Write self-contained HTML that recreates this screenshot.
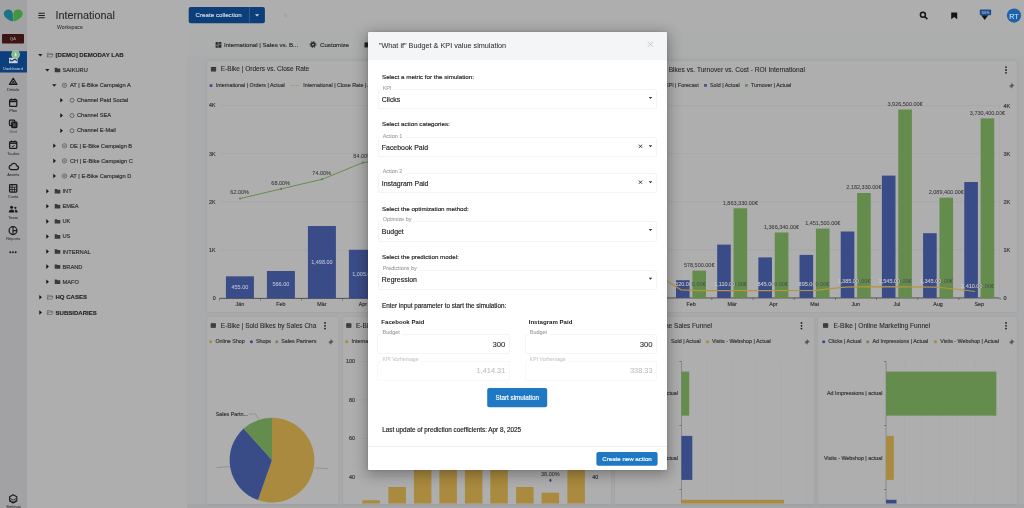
<!DOCTYPE html><html><head><meta charset="utf-8"><title>What if simulation</title><style>
*{box-sizing:border-box;margin:0;padding:0}
html,body{width:1024px;height:508px;overflow:hidden;background:#aaabac;font-family:"Liberation Sans",sans-serif;color:#2a2a2a}
.a{position:absolute}
.t{position:absolute;white-space:nowrap;line-height:1;transform:translateY(-50%)}
.tc{position:absolute;white-space:nowrap;line-height:1;transform:translate(-50%,-50%)}
.tr{position:absolute;white-space:nowrap;line-height:1;transform:translate(-100%,-50%)}
.card{position:absolute;background:#aeaeae;border-radius:1.5px;box-shadow:0 0 4px rgba(0,0,0,.06),0 0 1px rgba(0,0,0,.14)}
.fld{position:absolute;border:1px solid #ececec;border-radius:2px;background:#fff}
svg{position:absolute;left:0;top:0;overflow:visible}
</style></head><body><div id="root" style="position:absolute;left:0;top:0;width:1024px;height:508px;will-change:transform">
<svg width="1" height="1"><rect x="0" y="0" width="27" height="508" rx="0" fill="#a2a2a4"/></svg>
<svg width="1" height="1"><rect x="27" y="0" width="160" height="508" rx="0" fill="#aeaeae"/></svg>
<svg width="1" height="1"><rect x="187" y="0" width="837" height="32" rx="0" fill="#aeaeae"/></svg>
<svg width="1" height="1"><rect x="187" y="32" width="837" height="24.5" rx="0" fill="#acadad"/></svg>
<svg width="1" height="1"><rect x="187" y="504" width="837" height="4" rx="0" fill="#a4a5a7"/></svg>
<svg width="27" height="30" viewBox="0 0 27 30">
<path d="M8.400 9.600c2.800 0 4.500 2.200 4.500 5.200v6.500c-1.200 0-3.600-.8-5.600-2.300c-2.200-1.600-3.500-3.200-3.500-5c0-2.600 2-4.400 4.600-4.400z" fill="#1b7583"/>
<path d="M18 9.600c-2.800 0-4.600 2.200-4.600 5.200v6.500c1.200 0 3.600-.8 5.600-2.300c2.200-1.600 3.700-3.200 3.700-5c0-2.600-2.100-4.400-4.700-4.400z" fill="#43963f"/>
</svg>
<svg width="1" height="1"><rect x="2" y="34" width="22" height="9.5" rx="1.0" fill="#3d1414"/></svg>
<div class="tc" style="left:13px;top:39px;font-size:4.3px;color:#9a8686;font-weight:700;">QA</div>
<svg width="1" height="1"><rect x="0" y="51.2" width="27" height="21.3" rx="0" fill="#0d3e7d"/></svg>
<div class="tc" style="left:13px;top:68.95px;font-size:4.05px;color:#aebfd9;font-weight:400;-webkit-text-stroke:0.07px currentColor;">Dashboard</div>
<svg width="27" height="80" viewBox="0 0 27 80">
<path d="M9 57.8h8.6v5.4h-8.6z" fill="#c9d4e3"/>
<path d="M9.8 59.6c1.4 1.8 2.4 1.8 3.4.6c1.2-1.2 2.2-1.2 3.6.6" fill="none" stroke="#12305a" stroke-width="1.1"/>
<circle cx="15.6" cy="54.5" r="3.9" fill="#7db583" stroke="#a9cfae" stroke-width=".9"/>
<path d="M15.6 52.2c1.2 1 1.2 3 .9 4.2h-1.8c-.3-1.2-.3-3.2.9-4.2z" fill="#cfe6d2"/>
</svg>
<div class="tc" style="left:13.2px;top:90.02px;font-size:4.0px;color:#3a3a3a;font-weight:400;-webkit-text-stroke:0.07px currentColor;">Details</div>
<div class="tc" style="left:13.2px;top:110.5px;font-size:4.0px;color:#3a3a3a;font-weight:400;-webkit-text-stroke:0.07px currentColor;">Plan</div>
<div class="tc" style="left:13.2px;top:131.6px;font-size:4.0px;color:#5c5c5c;font-weight:400;-webkit-text-stroke:0.07px currentColor;">Grid</div>
<div class="tc" style="left:13.2px;top:153.6px;font-size:4.0px;color:#3a3a3a;font-weight:400;-webkit-text-stroke:0.07px currentColor;">To-dos</div>
<div class="tc" style="left:13.2px;top:175px;font-size:4.0px;color:#3a3a3a;font-weight:400;-webkit-text-stroke:0.07px currentColor;">Assets</div>
<div class="tc" style="left:13.2px;top:196.6px;font-size:4.0px;color:#3a3a3a;font-weight:400;-webkit-text-stroke:0.07px currentColor;">Costs</div>
<div class="tc" style="left:13.2px;top:217.6px;font-size:4.0px;color:#3a3a3a;font-weight:400;-webkit-text-stroke:0.07px currentColor;">Team</div>
<div class="tc" style="left:13.2px;top:238.6px;font-size:4.0px;color:#3a3a3a;font-weight:400;-webkit-text-stroke:0.07px currentColor;">Reports</div>
<svg width="27" height="508" viewBox="0 0 27 508" fill="none" stroke="#1a1a1a" stroke-width="1.25" stroke-linejoin="round">
<path d="M13.2 78.2l3.7 6.2h-7.4z"/><path d="M13.2 80.6v3.4M11.4 84.2l1.8-3M15 84.2l-1.8-3" stroke-width=".8"/>
<rect x="9.6" y="99.6" width="7.2" height="6.8" rx=".9"/><path d="M9.6 101.4h7.2" stroke-width="1.6"/><path d="M11.4 98.4v1.4M15 98.4v1.4" stroke-width="1"/>
<rect x="9.5" y="120.2" width="5.2" height="5.4" rx=".8"/><rect x="11.7" y="122.2" width="5.2" height="5.4" rx=".8" fill="#2a2a2a"/><path d="M13 124h2.6M13 125.8h2.6" stroke="#9a9a9a" stroke-width=".5"/>
<rect x="9.6" y="141.6" width="7.2" height="6.8" rx=".9"/><path d="M9.6 143.2h7.2" stroke-width="1.4"/><path d="M11.4 140.4v1.4M15 140.4v1.4" stroke-width="1"/><path d="M11.6 145.8l1.1 1.1 2-2" stroke-width="1"/>
<path d="M10.8 169.6h5.6a1.9 1.9 0 0 0 .4-3.8a2.9 2.9 0 0 0-5.5-.7a2.3 2.3 0 0 0-.5 4.5z"/>
<rect x="9.6" y="184.6" width="7.2" height="7.4" rx=".7"/><path d="M9.6 187.2h7.2M9.6 189.6h7.2M12.1 184.6v7.4M14.5 187.2v4.8" stroke-width=".8"/>
<circle cx="11.6" cy="207.2" r="1.5" fill="#1a1a1a" stroke="none"/><path d="M8.8 212.6c0-2.2 1.2-3 2.8-3s2.8.8 2.8 3z" fill="#1a1a1a" stroke="none"/><circle cx="15.4" cy="207.8" r="1.1" fill="#1a1a1a" stroke="none"/><path d="M14.8 209.8c1.8-.4 2.9.6 2.9 2.8h-2.5c0-1.300-.1-2-.4-2.800z" fill="#1a1a1a" stroke="none"/>
<circle cx="13" cy="230.6" r="3.9"/><path d="M13 226.700v7.800M13 230.600h3.900" stroke-width="1.1"/>
<circle cx="10.3" cy="252.2" r=".95" fill="#1a1a1a" stroke="none"/><circle cx="13" cy="252.2" r=".95" fill="#1a1a1a" stroke="none"/><circle cx="15.700" cy="252.2" r=".95" fill="#1a1a1a" stroke="none"/>
<path d="M13.2 494.800l3.600 2v4.200l-3.600 2-3.600-2v-4.200z" stroke-width="1.1"/><path d="M10 498.400l3.200 1.700 3.200-1.700M10 500.400l3.200 1.700 3.200-1.700" stroke-width=".8"/>
</svg>
<div class="tc" style="left:13.5px;top:506.5px;font-size:4.0px;color:#3a3a3a;font-weight:400;-webkit-text-stroke:0.07px currentColor;">Settings</div>
<svg width="60" height="30" viewBox="0 0 60 30"><path d="M38.400 13.200h6.400M38.400 15.500h6.400M38.400 17.800h6.400" stroke="#1e1e1e" stroke-width="1.1"/></svg>
<div class="t" style="left:55.5px;top:15.49px;font-size:10.8px;color:#262626;font-weight:400;-webkit-text-stroke:0.07px currentColor;">International</div>
<div class="t" style="left:57px;top:27.6px;font-size:5.2px;color:#3c3c3c;font-weight:400;-webkit-text-stroke:0.07px currentColor;">Workspace</div>
<svg width="1" height="1"><path d="M38.099999999999994 54h4.4l-2.2 2.4z" fill="#1e1e1e"/></svg>
<svg width="1" height="1"><path d="M47.4 57v-4h2l.6.7h2.6v.8M47.4 57l1-2.5h4.6l-1 2.5z" fill="none" stroke="#5a5a5a" stroke-width=".6"/></svg>
<div class="t" style="left:55.5px;top:55.2px;font-size:6.05px;color:#1c1c1c;font-weight:700;-webkit-text-stroke:0.1px currentColor;">[DEMO] DEMODAY LAB</div>
<svg width="1" height="1"><path d="M45.099999999999994 69h4.4l-2.2 2.4z" fill="#1e1e1e"/></svg>
<svg width="1" height="1"><path d="M54.7 67.8h2.2l.6.7h2.8v3.7h-5.6z" fill="#3a3a3a"/></svg>
<div class="t" style="left:62.5px;top:71.05px;font-size:5.7px;color:#2e2e2e;font-weight:400;-webkit-text-stroke:0.16px currentColor;">SAIKURU</div>
<svg width="1" height="1"><path d="M52.099999999999994 84.3h4.4l-2.2 2.4z" fill="#1e1e1e"/></svg>
<svg width="1" height="1"><circle cx="64.5" cy="85.3" r="2.2" fill="none" stroke="#4a4a4a" stroke-width=".6"/><circle cx="64.5" cy="85.3" r=".8" fill="none" stroke="#4a4a4a" stroke-width=".5"/></svg>
<div class="t" style="left:70px;top:86.38px;font-size:5.7px;color:#2e2e2e;font-weight:400;-webkit-text-stroke:0.16px currentColor;">AT | E-Bike Campaign A</div>
<svg width="1" height="1"><path d="M60.3 98.0l2.6 2.3l-2.6 2.3z" fill="#111"/></svg>
<svg width="1" height="1"><circle cx="72" cy="100.3" r="2" fill="none" stroke="#3a3a3a" stroke-width=".6"/></svg>
<div class="t" style="left:77px;top:101.41px;font-size:5.7px;color:#2e2e2e;font-weight:400;-webkit-text-stroke:0.16px currentColor;">Channel Paid Social</div>
<svg width="1" height="1"><path d="M60.3 113.2l2.6 2.3l-2.6 2.3z" fill="#111"/></svg>
<svg width="1" height="1"><circle cx="72" cy="115.5" r="2" fill="none" stroke="#3a3a3a" stroke-width=".6"/></svg>
<div class="t" style="left:77px;top:115.55px;font-size:5.7px;color:#2e2e2e;font-weight:400;-webkit-text-stroke:0.16px currentColor;">Channel SEA</div>
<svg width="1" height="1"><path d="M60.3 128.39999999999998l2.6 2.3l-2.6 2.3z" fill="#111"/></svg>
<svg width="1" height="1"><circle cx="72" cy="130.7" r="2" fill="none" stroke="#3a3a3a" stroke-width=".6"/></svg>
<div class="t" style="left:77px;top:130.75px;font-size:5.7px;color:#2e2e2e;font-weight:400;-webkit-text-stroke:0.16px currentColor;">Channel E-Mail</div>
<svg width="1" height="1"><path d="M53.3 143.5l2.6 2.3l-2.6 2.3z" fill="#111"/></svg>
<svg width="1" height="1"><circle cx="64.5" cy="145.8" r="2.2" fill="none" stroke="#4a4a4a" stroke-width=".6"/><circle cx="64.5" cy="145.8" r=".8" fill="none" stroke="#4a4a4a" stroke-width=".5"/></svg>
<div class="t" style="left:70px;top:146.91px;font-size:5.7px;color:#2e2e2e;font-weight:400;-webkit-text-stroke:0.16px currentColor;">DE | E-Bike Campaign B</div>
<svg width="1" height="1"><path d="M53.3 158.6l2.6 2.3l-2.6 2.3z" fill="#111"/></svg>
<svg width="1" height="1"><circle cx="64.5" cy="160.9" r="2.2" fill="none" stroke="#4a4a4a" stroke-width=".6"/><circle cx="64.5" cy="160.9" r=".8" fill="none" stroke="#4a4a4a" stroke-width=".5"/></svg>
<div class="t" style="left:70px;top:161.57px;font-size:5.7px;color:#2e2e2e;font-weight:400;-webkit-text-stroke:0.16px currentColor;">CH | E-Bike Campaign C</div>
<svg width="1" height="1"><path d="M53.3 173.7l2.6 2.3l-2.6 2.3z" fill="#111"/></svg>
<svg width="1" height="1"><circle cx="64.5" cy="176" r="2.2" fill="none" stroke="#4a4a4a" stroke-width=".6"/><circle cx="64.5" cy="176" r=".8" fill="none" stroke="#4a4a4a" stroke-width=".5"/></svg>
<div class="t" style="left:70px;top:176.79px;font-size:5.7px;color:#2e2e2e;font-weight:400;-webkit-text-stroke:0.16px currentColor;">AT | E-Bike Campaign D</div>
<svg width="1" height="1"><path d="M46.3 188.89999999999998l2.6 2.3l-2.6 2.3z" fill="#111"/></svg>
<svg width="1" height="1"><path d="M54.7 189.0h2.2l.6.7h2.8v3.7h-5.6z" fill="#3a3a3a"/></svg>
<div class="t" style="left:62.5px;top:192.07px;font-size:5.7px;color:#2e2e2e;font-weight:400;-webkit-text-stroke:0.16px currentColor;">INT</div>
<svg width="1" height="1"><path d="M46.3 204.0l2.6 2.3l-2.6 2.3z" fill="#111"/></svg>
<svg width="1" height="1"><path d="M54.7 204.10000000000002h2.2l.6.7h2.8v3.7h-5.6z" fill="#3a3a3a"/></svg>
<div class="t" style="left:62.5px;top:206.85px;font-size:5.7px;color:#2e2e2e;font-weight:400;-webkit-text-stroke:0.16px currentColor;">EMEA</div>
<svg width="1" height="1"><path d="M46.3 219.1l2.6 2.3l-2.6 2.3z" fill="#111"/></svg>
<svg width="1" height="1"><path d="M54.7 219.20000000000002h2.2l.6.7h2.8v3.7h-5.6z" fill="#3a3a3a"/></svg>
<div class="t" style="left:62.5px;top:222.25px;font-size:5.7px;color:#2e2e2e;font-weight:400;-webkit-text-stroke:0.16px currentColor;">UK</div>
<svg width="1" height="1"><path d="M46.3 234.2l2.6 2.3l-2.6 2.3z" fill="#111"/></svg>
<svg width="1" height="1"><path d="M54.7 234.3h2.2l.6.7h2.8v3.7h-5.6z" fill="#3a3a3a"/></svg>
<div class="t" style="left:62.5px;top:236.55px;font-size:5.7px;color:#2e2e2e;font-weight:400;-webkit-text-stroke:0.16px currentColor;">US</div>
<svg width="1" height="1"><path d="M46.3 249.2l2.6 2.3l-2.6 2.3z" fill="#111"/></svg>
<svg width="1" height="1"><path d="M54.7 249.3h2.2l.6.7h2.8v3.7h-5.6z" fill="#3a3a3a"/></svg>
<div class="t" style="left:62.5px;top:252.63px;font-size:5.7px;color:#2e2e2e;font-weight:400;-webkit-text-stroke:0.16px currentColor;">INTERNAL</div>
<svg width="1" height="1"><path d="M46.3 264.3l2.6 2.3l-2.6 2.3z" fill="#111"/></svg>
<svg width="1" height="1"><path d="M54.7 264.40000000000003h2.2l.6.7h2.8v3.7h-5.6z" fill="#3a3a3a"/></svg>
<div class="t" style="left:62.5px;top:267.93px;font-size:5.7px;color:#2e2e2e;font-weight:400;-webkit-text-stroke:0.16px currentColor;">BRAND</div>
<svg width="1" height="1"><path d="M46.3 279.4l2.6 2.3l-2.6 2.3z" fill="#111"/></svg>
<svg width="1" height="1"><path d="M54.7 279.5h2.2l.6.7h2.8v3.7h-5.6z" fill="#3a3a3a"/></svg>
<div class="t" style="left:62.5px;top:282.51px;font-size:5.7px;color:#2e2e2e;font-weight:400;-webkit-text-stroke:0.16px currentColor;">MAFO</div>
<svg width="1" height="1"><path d="M39.3 294.9l2.6 2.3l-2.6 2.3z" fill="#111"/></svg>
<svg width="1" height="1"><path d="M47.4 299.2v-4h2l.6.7h2.6v.8M47.4 299.2l1-2.5h4.6l-1 2.5z" fill="none" stroke="#5a5a5a" stroke-width=".6"/></svg>
<div class="t" style="left:55.5px;top:297.4px;font-size:6.05px;color:#1c1c1c;font-weight:700;-webkit-text-stroke:0.1px currentColor;">HQ CASES</div>
<svg width="1" height="1"><path d="M39.3 310.2l2.6 2.3l-2.6 2.3z" fill="#111"/></svg>
<svg width="1" height="1"><path d="M47.4 314.5v-4h2l.6.7h2.6v.8M47.4 314.5l1-2.5h4.6l-1 2.5z" fill="none" stroke="#5a5a5a" stroke-width=".6"/></svg>
<div class="t" style="left:55.5px;top:312.7px;font-size:6.05px;color:#1c1c1c;font-weight:700;-webkit-text-stroke:0.1px currentColor;">SUBSIDARIES</div>
<svg width="1" height="1"><rect x="188.7" y="7" width="76.2" height="16.3" rx="2.0" fill="#0c3e7a"/></svg>
<svg width="1" height="1"><rect x="249.2" y="7" width="0.7" height="16.3" rx="0" fill="#3a67a0"/></svg>
<div class="t" style="left:195.6px;top:15.2px;font-size:6.2px;color:#d3dbe6;font-weight:400;-webkit-text-stroke:0.16px currentColor;">Create collection</div>
<svg width="1" height="1"><path d="M255 14.2h4.2l-2.1 2.3z" fill="#d3dbe6"/></svg>
<svg width="1" height="1"><path d="M284 16.4l1.2-3h.6l1.2 3zM285.5 16.4v1.6" fill="#a2a2a2" stroke="#a2a2a2" stroke-width=".5"/></svg>
<svg width="1" height="1">
<circle cx="922.9" cy="14.7" r="2.5" fill="none" stroke="#141414" stroke-width="1.5"/><path d="M924.9 16.7l2.5 2.4" stroke="#141414" stroke-width="1.5"/>
<path d="M951.2 12.6h6v6.700l-3-2.200-3 2.200z" fill="#141414"/>
<rect x="979.8" y="9.4" width="11.3" height="5.9" rx=".8" fill="#1a4e8e"/><path d="M981.2 15.3h7l-3.500 4.600z" fill="#141414"/>
<circle cx="1014" cy="15.6" r="7.1" fill="#1d62aa"/>
</svg>
<div class="tc" style="left:985.4px;top:14.24px;font-size:3.2px;color:#9fb6d4;font-weight:700;">100%</div>
<div class="tc" style="left:1014px;top:17.86px;font-size:7.1px;color:#d5e0ee;font-weight:400;-webkit-text-stroke:0.07px currentColor;">RT</div>
<svg width="1" height="1"><rect x="215.6" y="42" width="5.8" height="5.8" rx=".5" fill="#2e2e2e"/><path d="M215.6 45.4h2.6M218.2 42v5.8M218.2 44.2h3.2" stroke="#a8a8a8" stroke-width=".55"/>
<circle cx="313" cy="44.6" r="2.5" fill="#2a2a2a"/><circle cx="313" cy="44.6" r="3" fill="none" stroke="#2a2a2a" stroke-width="1" stroke-dasharray="1.2 1.15"/><circle cx="313" cy="44.6" r=".9" fill="#acadad"/>
<rect x="364.5" y="42.4" width="4" height="5" fill="#222"/></svg>
<div class="t" style="left:224px;top:45px;font-size:6.1px;color:#2c2c2c;font-weight:400;-webkit-text-stroke:0.16px currentColor;">International | Sales vs. B...</div>
<div class="t" style="left:320px;top:45px;font-size:6.15px;color:#2c2c2c;font-weight:400;-webkit-text-stroke:0.16px currentColor;">Customize</div>
<div class="card" style="left:206.5px;top:60.5px;width:400px;height:251.5px"></div>
<svg width="1" height="1"><rect x="210.9" y="67.1" width="5.2" height="4.4" rx=".4" fill="#2a2a2a"/><path d="M210.9 68.6h5.2M210.9 70.1h5.2" stroke="#8a8a8a" stroke-width=".35"/></svg>
<div class="t" style="left:220.8px;top:69.31px;font-size:6.5px;color:#262626;font-weight:400;-webkit-text-stroke:0.07px currentColor;">E-Bike | Orders vs. Close Rate</div>
<svg width="1" height="1"><rect x="209.65" y="84.25" width="2.7" height="2.7" rx="0" fill="#3a4c88"/></svg>
<div class="t" style="left:215.8px;top:85.6px;font-size:5.35px;color:#333333;font-weight:400;-webkit-text-stroke:0.16px currentColor;">International | Orders | Actual</div>
<svg width="1" height="1"><path d="M290.5 85.6h8.5" stroke="#7aa86a" stroke-width=".8" stroke-dasharray="2 .7"/></svg>
<div class="t" style="left:303.3px;top:85.6px;font-size:5.35px;color:#333333;font-weight:400;-webkit-text-stroke:0.16px currentColor;">International | Close Rate | Actual</div>
<div class="tr" style="left:215.6px;top:298.82px;font-size:5.3px;color:#333333;font-weight:400;-webkit-text-stroke:0.16px currentColor;">0</div>
<svg width="1" height="1"><rect x="219.7" y="249.8" width="390" height="0.6" rx="0" fill="#a4a4a5"/></svg>
<div class="tr" style="left:215.6px;top:250.99px;font-size:5.3px;color:#333333;font-weight:400;-webkit-text-stroke:0.16px currentColor;">1K</div>
<svg width="1" height="1"><rect x="219.7" y="201.55" width="390" height="0.6" rx="0" fill="#a4a4a5"/></svg>
<div class="tr" style="left:215.6px;top:202.54px;font-size:5.3px;color:#333333;font-weight:400;-webkit-text-stroke:0.16px currentColor;">2K</div>
<svg width="1" height="1"><rect x="219.7" y="153.3" width="390" height="0.6" rx="0" fill="#a4a4a5"/></svg>
<div class="tr" style="left:215.6px;top:154.6px;font-size:5.3px;color:#333333;font-weight:400;-webkit-text-stroke:0.16px currentColor;">3K</div>
<svg width="1" height="1"><rect x="219.7" y="105.05" width="390" height="0.6" rx="0" fill="#a4a4a5"/></svg>
<div class="tr" style="left:215.6px;top:105.92px;font-size:5.3px;color:#333333;font-weight:400;-webkit-text-stroke:0.16px currentColor;">4K</div>
<svg width="1" height="1"><rect x="219.7" y="297.9" width="390" height="0.9" rx="0" fill="#484848"/></svg>
<svg width="1" height="1"><rect x="225.9" y="276.35" width="28" height="21.95" rx="0" fill="#3a4c88"/></svg>
<div class="tc" style="left:239.9px;top:287.99px;font-size:5.5px;color:#bcc3d8;font-weight:400;-webkit-text-stroke:0.07px currentColor;">455.00</div>
<div class="tc" style="left:239.9px;top:305.27px;font-size:5.35px;color:#333333;font-weight:400;-webkit-text-stroke:0.16px currentColor;">Jän</div>
<svg width="1" height="1"><rect x="219.3" y="298.3" width="0.7" height="2" rx="0" fill="#555"/></svg>
<svg width="1" height="1"><rect x="266.9" y="270.99" width="28" height="27.31" rx="0" fill="#3a4c88"/></svg>
<div class="tc" style="left:280.9px;top:284.85px;font-size:5.5px;color:#bcc3d8;font-weight:400;-webkit-text-stroke:0.07px currentColor;">566.00</div>
<div class="tc" style="left:280.9px;top:305.47px;font-size:5.35px;color:#333333;font-weight:400;-webkit-text-stroke:0.16px currentColor;">Feb</div>
<svg width="1" height="1"><rect x="260.3" y="298.3" width="0.7" height="2" rx="0" fill="#555"/></svg>
<svg width="1" height="1"><rect x="307.9" y="226.02" width="28" height="72.28" rx="0" fill="#3a4c88"/></svg>
<div class="tc" style="left:321.9px;top:262.62px;font-size:5.5px;color:#bcc3d8;font-weight:400;-webkit-text-stroke:0.07px currentColor;">1,498.00</div>
<div class="tc" style="left:321.9px;top:305.44px;font-size:5.35px;color:#333333;font-weight:400;-webkit-text-stroke:0.16px currentColor;">Mär</div>
<svg width="1" height="1"><rect x="301.3" y="298.3" width="0.7" height="2" rx="0" fill="#555"/></svg>
<svg width="1" height="1"><rect x="348.9" y="249.81" width="28" height="48.49" rx="0" fill="#3a4c88"/></svg>
<div class="tc" style="left:362.9px;top:274.95px;font-size:5.5px;color:#bcc3d8;font-weight:400;-webkit-text-stroke:0.07px currentColor;">1,005.00</div>
<div class="tc" style="left:362.9px;top:305.22px;font-size:5.35px;color:#333333;font-weight:400;-webkit-text-stroke:0.16px currentColor;">Apr</div>
<svg width="1" height="1"><rect x="342.3" y="298.3" width="0.7" height="2" rx="0" fill="#555"/></svg>
<svg width="1" height="1"><polyline points="240,198.6 281,188.9 322,179.3 363,162.6 404,158" fill="none" stroke="#648e4e" stroke-width="1"/><circle cx="240" cy="198.6" r="1.1" fill="#5d8548"/><circle cx="281" cy="188.9" r="1.1" fill="#5d8548"/><circle cx="322" cy="179.3" r="1.1" fill="#5d8548"/><circle cx="363" cy="162.6" r="1.1" fill="#5d8548"/><circle cx="404" cy="158" r="1.1" fill="#5d8548"/></svg>
<div class="tc" style="left:239.7px;top:192.74px;font-size:5.5px;color:#3b3b3b;font-weight:400;-webkit-text-stroke:0.07px currentColor;">62.00%</div>
<div class="tc" style="left:280.7px;top:183.72px;font-size:5.5px;color:#3b3b3b;font-weight:400;-webkit-text-stroke:0.07px currentColor;">68.00%</div>
<div class="tc" style="left:321.7px;top:174.03px;font-size:5.5px;color:#3b3b3b;font-weight:400;-webkit-text-stroke:0.07px currentColor;">74.00%</div>
<div class="tc" style="left:362.7px;top:156.86px;font-size:5.5px;color:#3b3b3b;font-weight:400;-webkit-text-stroke:0.07px currentColor;">84.00%</div>
<div class="card" style="left:611px;top:60.5px;width:405.7px;height:251.5px"></div>
<div class="tr" style="left:804.9px;top:69.8px;font-size:6.64px;color:#262626;font-weight:400;-webkit-text-stroke:0.07px currentColor;">E-Bike | Sold Bikes vs. Turnover vs. Cost - ROI International</div>
<svg width="1" height="1"><circle cx="1006" cy="67.1" r=".9" fill="#1a1a1a"/><circle cx="1006" cy="70" r=".9" fill="#1a1a1a"/><circle cx="1006" cy="72.8" r=".9" fill="#1a1a1a"/></svg>
<svg width="1" height="1"><rect x="704.15" y="84.05" width="2.7" height="2.7" rx="0" fill="#3a4c88"/></svg>
<div class="t" style="left:710px;top:86.46px;font-size:5.35px;color:#333333;font-weight:400;-webkit-text-stroke:0.16px currentColor;">Sold | Actual</div>
<svg width="1" height="1"><rect x="745.05" y="84.05" width="2.7" height="2.7" rx="0" fill="#648c4c"/></svg>
<div class="t" style="left:751px;top:86.44px;font-size:5.35px;color:#333333;font-weight:400;-webkit-text-stroke:0.16px currentColor;">Turnover | Actual</div>
<div class="t" style="left:665px;top:85.76px;font-size:5.35px;color:#333333;font-weight:400;-webkit-text-stroke:0.16px currentColor;">KPI | Forecast</div>
<svg width="1" height="1"><path d="M1011.6 83.19999999999999l2.6 2.4l-1 .2l-1 1.2l-.2 1.2l-2.6-2.6l1.2-.2l1-1.2zM1010.6 86.39999999999999l-1.4 1.6" fill="#555" stroke="#555" stroke-width=".3"/></svg>
<div class="t" style="left:1003.5px;top:298.75px;font-size:5.5px;color:#333333;font-weight:400;-webkit-text-stroke:0.16px currentColor;">0</div>
<svg width="1" height="1"><rect x="620" y="249.6" width="379.5" height="0.6" rx="0" fill="#a4a4a5"/></svg>
<div class="t" style="left:1003.5px;top:250.58px;font-size:5.5px;color:#333333;font-weight:400;-webkit-text-stroke:0.16px currentColor;">1K</div>
<svg width="1" height="1"><rect x="620" y="201.55" width="379.5" height="0.6" rx="0" fill="#a4a4a5"/></svg>
<div class="t" style="left:1003.5px;top:202.53px;font-size:5.5px;color:#333333;font-weight:400;-webkit-text-stroke:0.16px currentColor;">2K</div>
<svg width="1" height="1"><rect x="620" y="153.5" width="379.5" height="0.6" rx="0" fill="#a4a4a5"/></svg>
<div class="t" style="left:1003.5px;top:155.17px;font-size:5.5px;color:#333333;font-weight:400;-webkit-text-stroke:0.16px currentColor;">3K</div>
<svg width="1" height="1"><rect x="620" y="105.45" width="379.5" height="0.6" rx="0" fill="#a4a4a5"/></svg>
<div class="t" style="left:1003.5px;top:107.12px;font-size:5.5px;color:#333333;font-weight:400;-webkit-text-stroke:0.16px currentColor;">4K</div>
<svg width="1" height="1"><rect x="620" y="297.5" width="379.5" height="0.9" rx="0" fill="#484848"/></svg>
<svg width="1" height="1"><rect x="676.0" y="280.2" width="13.6" height="17.7" rx="0" fill="#3a4c88"/></svg>
<svg width="1" height="1"><rect x="692.4" y="270.6" width="13.6" height="27.3" rx="0" fill="#648c4c"/></svg>
<div class="tc" style="left:699.1999999999999px;top:266.0px;font-size:5.5px;color:#3b3b3b;font-weight:400;-webkit-text-stroke:0.07px currentColor;">578,500.00€</div>
<div class="tc" style="left:691.0px;top:305.47px;font-size:5.35px;color:#333333;font-weight:400;-webkit-text-stroke:0.16px currentColor;">Feb</div>
<svg width="1" height="1"><rect x="711.5" y="297.9" width="0.7" height="2" rx="0" fill="#555"/></svg>
<svg width="1" height="1"><rect x="717.18" y="244.6" width="13.6" height="53.3" rx="0" fill="#3a4c88"/></svg>
<svg width="1" height="1"><rect x="733.58" y="208.3" width="13.6" height="89.6" rx="0" fill="#648c4c"/></svg>
<div class="tc" style="left:740.3799999999999px;top:203.9px;font-size:5.5px;color:#3b3b3b;font-weight:400;-webkit-text-stroke:0.07px currentColor;">1,863,330.00€</div>
<div class="tc" style="left:732.18px;top:305.44px;font-size:5.35px;color:#333333;font-weight:400;-webkit-text-stroke:0.16px currentColor;">Mär</div>
<svg width="1" height="1"><rect x="752.68" y="297.9" width="0.7" height="2" rx="0" fill="#555"/></svg>
<svg width="1" height="1"><rect x="758.36" y="257.4" width="13.6" height="40.5" rx="0" fill="#3a4c88"/></svg>
<svg width="1" height="1"><rect x="774.76" y="232.5" width="13.6" height="65.4" rx="0" fill="#648c4c"/></svg>
<div class="tc" style="left:781.56px;top:227.7px;font-size:5.5px;color:#3b3b3b;font-weight:400;-webkit-text-stroke:0.07px currentColor;">1,366,340.00€</div>
<div class="tc" style="left:773.36px;top:305.22px;font-size:5.35px;color:#333333;font-weight:400;-webkit-text-stroke:0.16px currentColor;">Apr</div>
<svg width="1" height="1"><rect x="793.86" y="297.9" width="0.7" height="2" rx="0" fill="#555"/></svg>
<svg width="1" height="1"><rect x="799.54" y="254.9" width="13.6" height="43.0" rx="0" fill="#3a4c88"/></svg>
<svg width="1" height="1"><rect x="815.94" y="228.6" width="13.6" height="69.3" rx="0" fill="#648c4c"/></svg>
<div class="tc" style="left:822.7399999999999px;top:223.9px;font-size:5.5px;color:#3b3b3b;font-weight:400;-webkit-text-stroke:0.07px currentColor;">1,451,500.00€</div>
<div class="tc" style="left:814.54px;top:305.4px;font-size:5.35px;color:#333333;font-weight:400;-webkit-text-stroke:0.16px currentColor;">Mai</div>
<svg width="1" height="1"><rect x="835.04" y="297.9" width="0.7" height="2" rx="0" fill="#555"/></svg>
<svg width="1" height="1"><rect x="840.72" y="231.5" width="13.6" height="66.4" rx="0" fill="#3a4c88"/></svg>
<svg width="1" height="1"><rect x="857.12" y="193" width="13.6" height="104.9" rx="0" fill="#648c4c"/></svg>
<div class="tc" style="left:863.92px;top:187.96px;font-size:5.5px;color:#3b3b3b;font-weight:400;-webkit-text-stroke:0.07px currentColor;">2,182,330.00€</div>
<div class="tc" style="left:855.72px;top:305.2px;font-size:5.35px;color:#333333;font-weight:400;-webkit-text-stroke:0.16px currentColor;">Jun</div>
<svg width="1" height="1"><rect x="876.22" y="297.9" width="0.7" height="2" rx="0" fill="#555"/></svg>
<svg width="1" height="1"><rect x="881.9" y="175.6" width="13.6" height="122.3" rx="0" fill="#3a4c88"/></svg>
<svg width="1" height="1"><rect x="898.3" y="109.5" width="13.6" height="188.4" rx="0" fill="#648c4c"/></svg>
<div class="tc" style="left:905.0999999999999px;top:104.72px;font-size:5.5px;color:#3b3b3b;font-weight:400;-webkit-text-stroke:0.07px currentColor;">3,926,500.00€</div>
<div class="tc" style="left:896.9px;top:305.3px;font-size:5.35px;color:#333333;font-weight:400;-webkit-text-stroke:0.16px currentColor;">Jul</div>
<svg width="1" height="1"><rect x="917.4" y="297.9" width="0.7" height="2" rx="0" fill="#555"/></svg>
<svg width="1" height="1"><rect x="923.08" y="233.2" width="13.6" height="64.7" rx="0" fill="#3a4c88"/></svg>
<svg width="1" height="1"><rect x="939.48" y="197.7" width="13.6" height="100.2" rx="0" fill="#648c4c"/></svg>
<div class="tc" style="left:946.2799999999999px;top:193.13px;font-size:5.5px;color:#3b3b3b;font-weight:400;-webkit-text-stroke:0.07px currentColor;">2,089,400.00€</div>
<div class="tc" style="left:938.0799999999999px;top:305.02px;font-size:5.35px;color:#333333;font-weight:400;-webkit-text-stroke:0.16px currentColor;">Aug</div>
<svg width="1" height="1"><rect x="958.58" y="297.9" width="0.7" height="2" rx="0" fill="#555"/></svg>
<svg width="1" height="1"><rect x="964.26" y="182" width="13.6" height="115.9" rx="0" fill="#3a4c88"/></svg>
<svg width="1" height="1"><rect x="980.66" y="118.4" width="13.6" height="179.5" rx="0" fill="#648c4c"/></svg>
<div class="tc" style="left:987.4599999999999px;top:113.55px;font-size:5.5px;color:#3b3b3b;font-weight:400;-webkit-text-stroke:0.07px currentColor;">3,730,400.00€</div>
<div class="tc" style="left:979.26px;top:305.2px;font-size:5.35px;color:#333333;font-weight:400;-webkit-text-stroke:0.16px currentColor;">Sep</div>
<svg width="1" height="1"><rect x="999.76" y="297.9" width="0.7" height="2" rx="0" fill="#555"/></svg>
<svg width="1" height="1"><polyline points="660,280 667,281 681,289.8 700,290.6 740,290.6 780,290.6 815,290.4 845,287.2 870,286.6 905,286.8 935,287 955,289 975,291.5" fill="none" stroke="#b5953f" stroke-width="1.25"/></svg>
<div class="tc" style="left:692.0px;top:284.96px;font-size:5.5px;color:#4c4c4c;font-weight:400;">45,500.00€</div>
<div class="tc" style="left:683.5px;top:284.89px;font-size:5.5px;color:#c3c7d3;font-weight:400;-webkit-text-stroke:0.1px currentColor;">320.00</div>
<div class="tc" style="left:733.18px;top:284.94px;font-size:5.5px;color:#4c4c4c;font-weight:400;">56,600.00€</div>
<div class="tc" style="left:724.68px;top:284.77px;font-size:5.5px;color:#c3c7d3;font-weight:400;-webkit-text-stroke:0.1px currentColor;">1,110.00</div>
<div class="tc" style="left:774.36px;top:284.97px;font-size:5.5px;color:#4c4c4c;font-weight:400;">54,450.00€</div>
<div class="tc" style="left:765.86px;top:284.95px;font-size:5.5px;color:#c3c7d3;font-weight:400;-webkit-text-stroke:0.1px currentColor;">845.00</div>
<div class="tc" style="left:815.54px;top:284.92px;font-size:5.5px;color:#4c4c4c;font-weight:400;">51,000.00€</div>
<div class="tc" style="left:807.04px;top:284.96px;font-size:5.5px;color:#c3c7d3;font-weight:400;-webkit-text-stroke:0.1px currentColor;">895.00</div>
<div class="tc" style="left:856.72px;top:281.5px;font-size:5.5px;color:#4c4c4c;font-weight:400;">67,500.00€</div>
<div class="tc" style="left:848.22px;top:281.5px;font-size:5.5px;color:#c3c7d3;font-weight:400;-webkit-text-stroke:0.1px currentColor;">1,385.00</div>
<div class="tc" style="left:897.9px;top:281.5px;font-size:5.5px;color:#4c4c4c;font-weight:400;">72,500.00€</div>
<div class="tc" style="left:889.4px;top:281.5px;font-size:5.5px;color:#c3c7d3;font-weight:400;-webkit-text-stroke:0.1px currentColor;">2,545.00</div>
<div class="tc" style="left:939.0799999999999px;top:281.5px;font-size:5.5px;color:#4c4c4c;font-weight:400;">71,900.00€</div>
<div class="tc" style="left:930.5799999999999px;top:281.5px;font-size:5.5px;color:#c3c7d3;font-weight:400;-webkit-text-stroke:0.1px currentColor;">1,345.00</div>
<div class="tc" style="left:980.26px;top:286.94px;font-size:5.5px;color:#4c4c4c;font-weight:400;">39,500.00€</div>
<div class="tc" style="left:971.76px;top:286.85px;font-size:5.5px;color:#c3c7d3;font-weight:400;-webkit-text-stroke:0.1px currentColor;">2,410.00</div>
<svg width="1" height="1"><rect x="999.3" y="105" width="0.5" height="193" rx="0" fill="#a4a4a4"/></svg>
<div class="card" style="left:206.5px;top:316.5px;width:131px;height:187px"></div>
<svg width="1" height="1"><rect x="210.70000000000002" y="323.3" width="5.2" height="4.4" rx=".4" fill="#2a2a2a"/><path d="M210.70000000000002 324.8h5.2M210.70000000000002 326.3h5.2" stroke="#8a8a8a" stroke-width=".35"/></svg>
<div class="t" style="left:220.7px;top:325.5px;font-size:6.5px;color:#262626;font-weight:400;-webkit-text-stroke:0.07px currentColor;">E-Bike | Sold Bikes by Sales Cha</div>
<svg width="1" height="1"><circle cx="325" cy="322.90000000000003" r=".9" fill="#1a1a1a"/><circle cx="325" cy="325.8" r=".9" fill="#1a1a1a"/><circle cx="325" cy="328.6" r=".9" fill="#1a1a1a"/></svg>
<svg width="1" height="1"><rect x="209.05" y="340.25" width="3.1" height="3.1" rx="1.55" fill="#aa8a3e"/></svg>
<div class="t" style="left:215.4px;top:341.8px;font-size:5.35px;color:#333333;font-weight:400;-webkit-text-stroke:0.16px currentColor;">Online Shop</div>
<svg width="1" height="1"><rect x="249.85" y="340.25" width="3.1" height="3.1" rx="1.55" fill="#3a4c88"/></svg>
<div class="t" style="left:255.9px;top:341.8px;font-size:5.35px;color:#333333;font-weight:400;-webkit-text-stroke:0.16px currentColor;">Shops</div>
<svg width="1" height="1"><rect x="275.25" y="340.25" width="3.1" height="3.1" rx="1.55" fill="#648c4c"/></svg>
<div class="t" style="left:281.3px;top:341.8px;font-size:5.35px;color:#333333;font-weight:400;-webkit-text-stroke:0.16px currentColor;">Sales Partners</div>
<svg width="1" height="1"><path d="M330.8 339.40000000000003l2.6 2.4l-1 .2l-1 1.2l-.2 1.2l-2.6-2.6l1.2-.2l1-1.2zM329.8 342.6l-1.4 1.6" fill="#555" stroke="#555" stroke-width=".3"/></svg>
<svg width="1" height="1"><path d="M272 460.1L272.00 417.70A42.4 42.4 0 1 1 257.99 500.12Z" fill="#aa8a3e"/><path d="M272 460.1L257.99 500.12A42.4 42.4 0 0 1 243.63 428.59Z" fill="#3a4c88"/><path d="M272 460.1L243.63 428.59A42.4 42.4 0 0 1 272.00 417.70Z" fill="#648c4c"/><path d="M249 414h6.5l3.2 5M216.6 467.6l13.2-1M314.6 468l13.4.6" fill="none" stroke="#7a7a7a" stroke-width=".5"/></svg>
<div class="t" style="left:215.8px;top:415.08px;font-size:5.35px;color:#333333;font-weight:400;-webkit-text-stroke:0.16px currentColor;">Sales Partn...</div>
<div class="card" style="left:343px;top:316.5px;width:268px;height:187px"></div>
<svg width="1" height="1"><rect x="346.2" y="323.3" width="5.2" height="4.4" rx=".4" fill="#2a2a2a"/><path d="M346.2 324.8h5.2M346.2 326.3h5.2" stroke="#8a8a8a" stroke-width=".35"/></svg>
<div class="t" style="left:356px;top:325.5px;font-size:6.5px;color:#262626;font-weight:400;-webkit-text-stroke:0.07px currentColor;">E-Bike | Budget vs. Conversion International</div>
<svg width="1" height="1"><rect x="345.25" y="340.25" width="3.1" height="3.1" rx="1.55" fill="#b08a3a"/></svg>
<div class="t" style="left:351.5px;top:341.8px;font-size:5.35px;color:#333333;font-weight:400;-webkit-text-stroke:0.16px currentColor;">International | Budget</div>
<div class="tr" style="left:355px;top:362.0px;font-size:5.35px;color:#333333;font-weight:400;-webkit-text-stroke:0.16px currentColor;">100</div>
<svg width="1" height="1"><rect x="358" y="361.15" width="232" height="0.5" rx="0" fill="#a4a4a5"/></svg>
<div class="t" style="left:592.3px;top:361.98px;font-size:5.35px;color:#333333;font-weight:400;-webkit-text-stroke:0.16px currentColor;">100</div>
<div class="tr" style="left:355px;top:400.78px;font-size:5.35px;color:#333333;font-weight:400;-webkit-text-stroke:0.16px currentColor;">80</div>
<svg width="1" height="1"><rect x="358" y="399.65" width="232" height="0.5" rx="0" fill="#a4a4a5"/></svg>
<div class="t" style="left:592.3px;top:400.78px;font-size:5.35px;color:#333333;font-weight:400;-webkit-text-stroke:0.16px currentColor;">80</div>
<div class="tr" style="left:355px;top:439.12px;font-size:5.35px;color:#333333;font-weight:400;-webkit-text-stroke:0.16px currentColor;">60</div>
<svg width="1" height="1"><rect x="358" y="438.15" width="232" height="0.5" rx="0" fill="#a4a4a5"/></svg>
<div class="t" style="left:592.3px;top:439.14px;font-size:5.35px;color:#333333;font-weight:400;-webkit-text-stroke:0.16px currentColor;">60</div>
<div class="tr" style="left:355px;top:477.59px;font-size:5.35px;color:#333333;font-weight:400;-webkit-text-stroke:0.16px currentColor;">40</div>
<svg width="1" height="1"><rect x="358" y="476.55" width="232" height="0.5" rx="0" fill="#a4a4a5"/></svg>
<div class="t" style="left:592.3px;top:477.6px;font-size:5.35px;color:#333333;font-weight:400;-webkit-text-stroke:0.16px currentColor;">40</div>
<svg width="1" height="1"><rect x="362.3" y="500.3" width="17.5" height="3.2" rx="0" fill="#aa8a3e"/></svg>
<svg width="1" height="1"><rect x="388.4" y="487" width="17.5" height="16.5" rx="0" fill="#aa8a3e"/></svg>
<svg width="1" height="1"><rect x="413.9" y="440" width="17.5" height="63.5" rx="0" fill="#aa8a3e"/></svg>
<svg width="1" height="1"><rect x="439.4" y="430" width="17.5" height="73.5" rx="0" fill="#aa8a3e"/></svg>
<svg width="1" height="1"><rect x="464.9" y="425" width="17.5" height="78.5" rx="0" fill="#aa8a3e"/></svg>
<svg width="1" height="1"><rect x="490.3" y="435" width="17.5" height="68.5" rx="0" fill="#aa8a3e"/></svg>
<svg width="1" height="1"><rect x="516.1" y="487" width="17.5" height="16.5" rx="0" fill="#aa8a3e"/></svg>
<svg width="1" height="1"><rect x="541.6" y="492.7" width="17.5" height="10.8" rx="0" fill="#aa8a3e"/></svg>
<svg width="1" height="1"><rect x="567.4" y="445" width="17.5" height="58.5" rx="0" fill="#aa8a3e"/></svg>
<div class="tc" style="left:550.4px;top:474.5px;font-size:5.5px;color:#3b3b3b;font-weight:400;-webkit-text-stroke:0.07px currentColor;">38.00%</div>
<svg width="1" height="1"><path d="M550.4 478.6l1.3 1.6l-1.3 2l-1.3-2z" fill="#2f3f86"/></svg>
<div class="card" style="left:615.2px;top:316.5px;width:198.8px;height:187px"></div>
<div class="t" style="left:629px;top:325.5px;font-size:6.5px;color:#262626;font-weight:400;-webkit-text-stroke:0.07px currentColor;">E-Bike | Online Sales Funnel</div>
<svg width="1" height="1"><circle cx="801.5" cy="322.90000000000003" r=".9" fill="#1a1a1a"/><circle cx="801.5" cy="325.8" r=".9" fill="#1a1a1a"/><circle cx="801.5" cy="328.6" r=".9" fill="#1a1a1a"/></svg>
<div class="t" style="left:671px;top:341.8px;font-size:5.35px;color:#333333;font-weight:400;-webkit-text-stroke:0.16px currentColor;">Sold | Actual</div>
<svg width="1" height="1"><rect x="705.95" y="340.25" width="3.1" height="3.1" rx="1.55" fill="#aa8a3e"/></svg>
<div class="t" style="left:712px;top:341.8px;font-size:5.35px;color:#333333;font-weight:400;-webkit-text-stroke:0.16px currentColor;">Visits - Webshop | Actual</div>
<svg width="1" height="1"><path d="M806.9 339.40000000000003l2.6 2.4l-1 .2l-1 1.2l-.2 1.2l-2.6-2.6l1.2-.2l1-1.2zM805.9 342.6l-1.4 1.6" fill="#555" stroke="#555" stroke-width=".3"/></svg>
<svg width="1" height="1"><rect x="706" y="361.4" width="0.5" height="142" rx="0" fill="#a8a8a9"/></svg>
<svg width="1" height="1"><rect x="731" y="361.4" width="0.5" height="142" rx="0" fill="#a8a8a9"/></svg>
<svg width="1" height="1"><rect x="755.9" y="361.4" width="0.5" height="142" rx="0" fill="#a8a8a9"/></svg>
<svg width="1" height="1"><rect x="780.8" y="361.4" width="0.5" height="142" rx="0" fill="#a8a8a9"/></svg>
<svg width="1" height="1"><rect x="806" y="361.4" width="0.5" height="142" rx="0" fill="#a8a8a9"/></svg>
<svg width="1" height="1"><rect x="681.2" y="361.4" width="0.5" height="142" rx="0" fill="#666"/></svg>
<svg width="1" height="1"><rect x="679.4" y="361.1" width="2" height="0.6" rx="0" fill="#555"/></svg>
<svg width="1" height="1"><rect x="679.4" y="425.1" width="2" height="0.6" rx="0" fill="#555"/></svg>
<svg width="1" height="1"><rect x="679.4" y="489.4" width="2" height="0.6" rx="0" fill="#555"/></svg>
<svg width="1" height="1"><rect x="681.4" y="371.6" width="7.8" height="44" rx="0" fill="#648c4c"/></svg>
<svg width="1" height="1"><rect x="681.4" y="435.9" width="10.9" height="44" rx="0" fill="#3a4c88"/></svg>
<svg width="1" height="1"><rect x="681.4" y="499.8" width="102.6" height="3.7" rx="0" fill="#aa8a3e"/></svg>
<div class="tr" style="left:678px;top:394.4px;font-size:5.35px;color:#333333;font-weight:400;-webkit-text-stroke:0.16px currentColor;">Orders | actual</div>
<div class="tr" style="left:678px;top:458.6px;font-size:5.35px;color:#333333;font-weight:400;-webkit-text-stroke:0.16px currentColor;">Sold | actual</div>
<div class="card" style="left:817.8px;top:316.5px;width:199.7px;height:187px"></div>
<svg width="1" height="1"><rect x="823.0" y="323.3" width="5.2" height="4.4" rx=".4" fill="#2a2a2a"/><path d="M823.0 324.8h5.2M823.0 326.3h5.2" stroke="#8a8a8a" stroke-width=".35"/></svg>
<div class="t" style="left:833.4px;top:325.5px;font-size:6.62px;color:#262626;font-weight:400;-webkit-text-stroke:0.07px currentColor;">E-Bike | Online Marketing Funnel</div>
<svg width="1" height="1"><circle cx="1006" cy="322.90000000000003" r=".9" fill="#1a1a1a"/><circle cx="1006" cy="325.8" r=".9" fill="#1a1a1a"/><circle cx="1006" cy="328.6" r=".9" fill="#1a1a1a"/></svg>
<svg width="1" height="1"><rect x="822.15" y="340.25" width="3.1" height="3.1" rx="1.55" fill="#3a4c88"/></svg>
<div class="t" style="left:828.3px;top:341.8px;font-size:5.35px;color:#333333;font-weight:400;-webkit-text-stroke:0.16px currentColor;">Clicks | Actual</div>
<svg width="1" height="1"><rect x="866.15" y="340.25" width="3.1" height="3.1" rx="1.55" fill="#648c4c"/></svg>
<div class="t" style="left:872.4px;top:341.8px;font-size:5.35px;color:#333333;font-weight:400;-webkit-text-stroke:0.16px currentColor;">Ad Impressions | Actual</div>
<svg width="1" height="1"><rect x="933.95" y="340.25" width="3.1" height="3.1" rx="1.55" fill="#aa8a3e"/></svg>
<div class="t" style="left:940.2px;top:341.8px;font-size:5.35px;color:#333333;font-weight:400;-webkit-text-stroke:0.16px currentColor;">Visits - Webshop | Actual</div>
<svg width="1" height="1"><path d="M1011.6 339.40000000000003l2.6 2.4l-1 .2l-1 1.2l-.2 1.2l-2.6-2.6l1.2-.2l1-1.2zM1010.6 342.6l-1.4 1.6" fill="#555" stroke="#555" stroke-width=".3"/></svg>
<svg width="1" height="1"><rect x="903.85" y="361.4" width="0.5" height="142" rx="0" fill="#a8a8a9"/></svg>
<svg width="1" height="1"><rect x="921.7" y="361.4" width="0.5" height="142" rx="0" fill="#a8a8a9"/></svg>
<svg width="1" height="1"><rect x="939.55" y="361.4" width="0.5" height="142" rx="0" fill="#a8a8a9"/></svg>
<svg width="1" height="1"><rect x="957.4" y="361.4" width="0.5" height="142" rx="0" fill="#a8a8a9"/></svg>
<svg width="1" height="1"><rect x="975.25" y="361.4" width="0.5" height="142" rx="0" fill="#a8a8a9"/></svg>
<svg width="1" height="1"><rect x="993.1" y="361.4" width="0.5" height="142" rx="0" fill="#a8a8a9"/></svg>
<svg width="1" height="1"><rect x="1010.95" y="361.4" width="0.5" height="142" rx="0" fill="#a8a8a9"/></svg>
<svg width="1" height="1"><rect x="885.8" y="361.4" width="0.5" height="142" rx="0" fill="#666"/></svg>
<svg width="1" height="1"><rect x="884" y="361.1" width="2" height="0.6" rx="0" fill="#555"/></svg>
<svg width="1" height="1"><rect x="884" y="425.1" width="2" height="0.6" rx="0" fill="#555"/></svg>
<svg width="1" height="1"><rect x="884" y="489.4" width="2" height="0.6" rx="0" fill="#555"/></svg>
<svg width="1" height="1"><rect x="886" y="371.6" width="110.3" height="44" rx="0" fill="#648c4c"/></svg>
<svg width="1" height="1"><rect x="886" y="435.9" width="7.8" height="44" rx="0" fill="#aa8a3e"/></svg>
<svg width="1" height="1"><rect x="886" y="499.8" width="10.5" height="3.7" rx="0" fill="#3a4c88"/></svg>
<div class="tr" style="left:882.5px;top:394.36px;font-size:5.35px;color:#333333;font-weight:400;-webkit-text-stroke:0.16px currentColor;">Ad Impressions | actual</div>
<div class="tr" style="left:882.5px;top:458.63px;font-size:5.35px;color:#333333;font-weight:400;-webkit-text-stroke:0.16px currentColor;">Visits - Webshop | actual</div>
<div class="a" style="left:368px;top:31.5px;width:298.5px;height:438.5px;background:#fff;border-radius:1.5px;box-shadow:0 3px 14px 2px rgba(0,0,0,.30),0 0 3px rgba(0,0,0,.15);overflow:hidden">
<div class="a" style="left:0;top:0;width:100%;height:28px;background:#f4f5f6"></div>
<div class="a" style="left:0;top:414.5px;width:100%;height:.8px;background:#f0f0f0"></div>
</div>
<div class="t" style="left:378.9px;top:45.82px;font-size:7.25px;color:#333;font-weight:400;-webkit-text-stroke:0.05px currentColor;">&quot;What if&quot; Budget &amp; KPI value simulation</div>
<svg width="1" height="1"><path d="M647.9 41.700l5.200 5.200M653.100 41.700l-5.200 5.200" stroke="#b5b5b5" stroke-width=".7"/></svg>
<div class="t" style="left:382px;top:77.2px;font-size:6.22px;color:#222;font-weight:400;-webkit-text-stroke:0.16px currentColor;">Select a metric for the simulation:</div>
<div class="fld" style="left:377.5px;top:89px;width:279.5px;height:20px;border-color:#f4f4f4"></div>
<svg width="1" height="1"><rect x="381.0" y="88" width="12" height="3" rx="0" fill="#fff"/></svg>
<div class="t" style="left:382.7px;top:89.12px;font-size:5.45px;color:#9a9a9a;font-weight:400;-webkit-text-stroke:0.07px currentColor;">KPI</div>
<div class="t" style="left:381.8px;top:99.6px;font-size:6.95px;color:#1f1f1f;font-weight:400;-webkit-text-stroke:0.16px currentColor;">Clicks</div>
<svg width="1" height="1"><path d="M648.7 97h3.6l-1.8 2z" fill="#333"/></svg>
<div class="t" style="left:382px;top:123.72px;font-size:6.22px;color:#222;font-weight:400;-webkit-text-stroke:0.16px currentColor;">Select action categories:</div>
<div class="fld" style="left:377.5px;top:137.3px;width:279.5px;height:20px;border-color:#f4f4f4"></div>
<svg width="1" height="1"><rect x="381.0" y="136.3" width="24" height="3" rx="0" fill="#fff"/></svg>
<div class="t" style="left:382.7px;top:137.0px;font-size:5.45px;color:#9a9a9a;font-weight:400;-webkit-text-stroke:0.07px currentColor;">Action 1</div>
<div class="t" style="left:381.8px;top:147.9px;font-size:6.95px;color:#1f1f1f;font-weight:400;-webkit-text-stroke:0.16px currentColor;">Facebook Paid</div>
<svg width="1" height="1"><path d="M648.7 145.3h3.6l-1.8 2z" fill="#333"/></svg>
<svg width="1" height="1"><path d="M638.9 144.70000000000002l3.2 3.2M642.1 144.70000000000002l-3.2 3.2" stroke="#222" stroke-width=".9"/></svg>
<div class="fld" style="left:377.5px;top:173.2px;width:279.5px;height:20px;border-color:#f4f4f4"></div>
<svg width="1" height="1"><rect x="381.0" y="172.2" width="24" height="3" rx="0" fill="#fff"/></svg>
<div class="t" style="left:382.7px;top:171.8px;font-size:5.45px;color:#9a9a9a;font-weight:400;-webkit-text-stroke:0.07px currentColor;">Action 2</div>
<div class="t" style="left:381.8px;top:183.8px;font-size:6.95px;color:#1f1f1f;font-weight:400;-webkit-text-stroke:0.16px currentColor;">Instagram Paid</div>
<svg width="1" height="1"><path d="M648.7 181.2h3.6l-1.8 2z" fill="#333"/></svg>
<svg width="1" height="1"><path d="M638.9 180.6l3.2 3.2M642.1 180.6l-3.2 3.2" stroke="#222" stroke-width=".9"/></svg>
<div class="t" style="left:382px;top:209.1px;font-size:6.22px;color:#222;font-weight:400;-webkit-text-stroke:0.16px currentColor;">Select the optimization method:</div>
<div class="fld" style="left:377.5px;top:221px;width:279.5px;height:21px;border-color:#f4f4f4"></div>
<svg width="1" height="1"><rect x="381.0" y="220" width="33.5" height="3" rx="0" fill="#fff"/></svg>
<div class="t" style="left:382.7px;top:219.6px;font-size:5.45px;color:#9a9a9a;font-weight:400;-webkit-text-stroke:0.07px currentColor;">Optimize by</div>
<div class="t" style="left:381.8px;top:231.6px;font-size:6.95px;color:#1f1f1f;font-weight:400;-webkit-text-stroke:0.16px currentColor;">Budget</div>
<svg width="1" height="1"><path d="M648.7 229h3.6l-1.8 2z" fill="#333"/></svg>
<div class="t" style="left:382px;top:257.3px;font-size:6.22px;color:#222;font-weight:400;-webkit-text-stroke:0.16px currentColor;">Select the prediction model:</div>
<div class="fld" style="left:377.5px;top:269.8px;width:279.5px;height:20px;border-color:#f4f4f4"></div>
<svg width="1" height="1"><rect x="381.0" y="268.8" width="38.5" height="3" rx="0" fill="#fff"/></svg>
<div class="t" style="left:382.7px;top:269.46px;font-size:5.45px;color:#9a9a9a;font-weight:400;-webkit-text-stroke:0.07px currentColor;">Predictions by</div>
<div class="t" style="left:381.8px;top:280.4px;font-size:6.95px;color:#1f1f1f;font-weight:400;-webkit-text-stroke:0.16px currentColor;">Regression</div>
<svg width="1" height="1"><path d="M648.7 277.8h3.6l-1.8 2z" fill="#333"/></svg>
<div class="t" style="left:382px;top:305.8px;font-size:6.3px;color:#222;font-weight:400;-webkit-text-stroke:0.16px currentColor;">Enter input parameter to start the simulation:</div>
<div class="t" style="left:381.3px;top:322.4px;font-size:6.1px;color:#1a1a1a;font-weight:700;">Facebook Paid</div>
<div class="t" style="left:528.7px;top:322.4px;font-size:6.1px;color:#1a1a1a;font-weight:700;">Instagram Paid</div>
<div class="fld" style="left:377.3px;top:334px;width:132.4px;height:20px;border-color:#f4f4f4"></div>
<svg width="1" height="1"><rect x="380.8" y="333" width="21.5" height="3" rx="0" fill="#fff"/></svg>
<div class="t" style="left:382.5px;top:332.6px;font-size:5.45px;color:#9a9a9a;font-weight:400;-webkit-text-stroke:0.07px currentColor;">Budget</div>
<div class="tr" style="left:505.3px;top:344.9px;font-size:7.7px;color:#2a2a2a;font-weight:400;-webkit-text-stroke:0.07px currentColor;">300</div>
<div class="fld" style="left:377.3px;top:360.6px;width:132.4px;height:20.4px;border-color:#f8f8f8"></div>
<svg width="1" height="1"><rect x="380.8" y="359.6" width="40" height="3" rx="0" fill="#fff"/></svg>
<div class="t" style="left:382.5px;top:360.09px;font-size:5.15px;color:#c9c9c9;font-weight:400;-webkit-text-stroke:0.07px currentColor;">KPI Vorhersage</div>
<div class="fld" style="left:524.6px;top:334px;width:132.4px;height:20px;border-color:#f4f4f4"></div>
<svg width="1" height="1"><rect x="528.1" y="333" width="21.5" height="3" rx="0" fill="#fff"/></svg>
<div class="t" style="left:529.8000000000001px;top:332.6px;font-size:5.45px;color:#9a9a9a;font-weight:400;-webkit-text-stroke:0.07px currentColor;">Budget</div>
<div class="tr" style="left:652.6px;top:344.89px;font-size:7.7px;color:#2a2a2a;font-weight:400;-webkit-text-stroke:0.07px currentColor;">300</div>
<div class="fld" style="left:524.6px;top:360.6px;width:132.4px;height:20.4px;border-color:#f8f8f8"></div>
<svg width="1" height="1"><rect x="528.1" y="359.6" width="40" height="3" rx="0" fill="#fff"/></svg>
<div class="t" style="left:529.8000000000001px;top:360.09px;font-size:5.15px;color:#c9c9c9;font-weight:400;-webkit-text-stroke:0.07px currentColor;">KPI Vorhersage</div>
<div class="tr" style="left:505.3px;top:371.08px;font-size:7.4px;color:#bdbdbd;font-weight:400;-webkit-text-stroke:0.07px currentColor;">1,414.31</div>
<div class="tr" style="left:652.6px;top:371.19px;font-size:7.4px;color:#bdbdbd;font-weight:400;-webkit-text-stroke:0.07px currentColor;">338.33</div>
<svg width="1" height="1"><rect x="487.2" y="388.1" width="60" height="19.2" rx="2.0" fill="#1f78c4"/></svg>
<div class="tc" style="left:517.2px;top:397.6px;font-size:6.3px;color:#fff;font-weight:400;-webkit-text-stroke:0.16px currentColor;">Start simulation</div>
<div class="t" style="left:382.3px;top:429.7px;font-size:6.35px;color:#222;font-weight:400;-webkit-text-stroke:0.16px currentColor;">Last update of prediction coefficients: Apr 8, 2025</div>
<svg width="1" height="1"><rect x="596.4" y="452" width="61.2" height="13.8" rx="2.0" fill="#1f78c4"/></svg>
<div class="tc" style="left:627px;top:459px;font-size:6.15px;color:#fff;font-weight:400;-webkit-text-stroke:0.16px currentColor;">Create new action</div>
</div></body></html>
